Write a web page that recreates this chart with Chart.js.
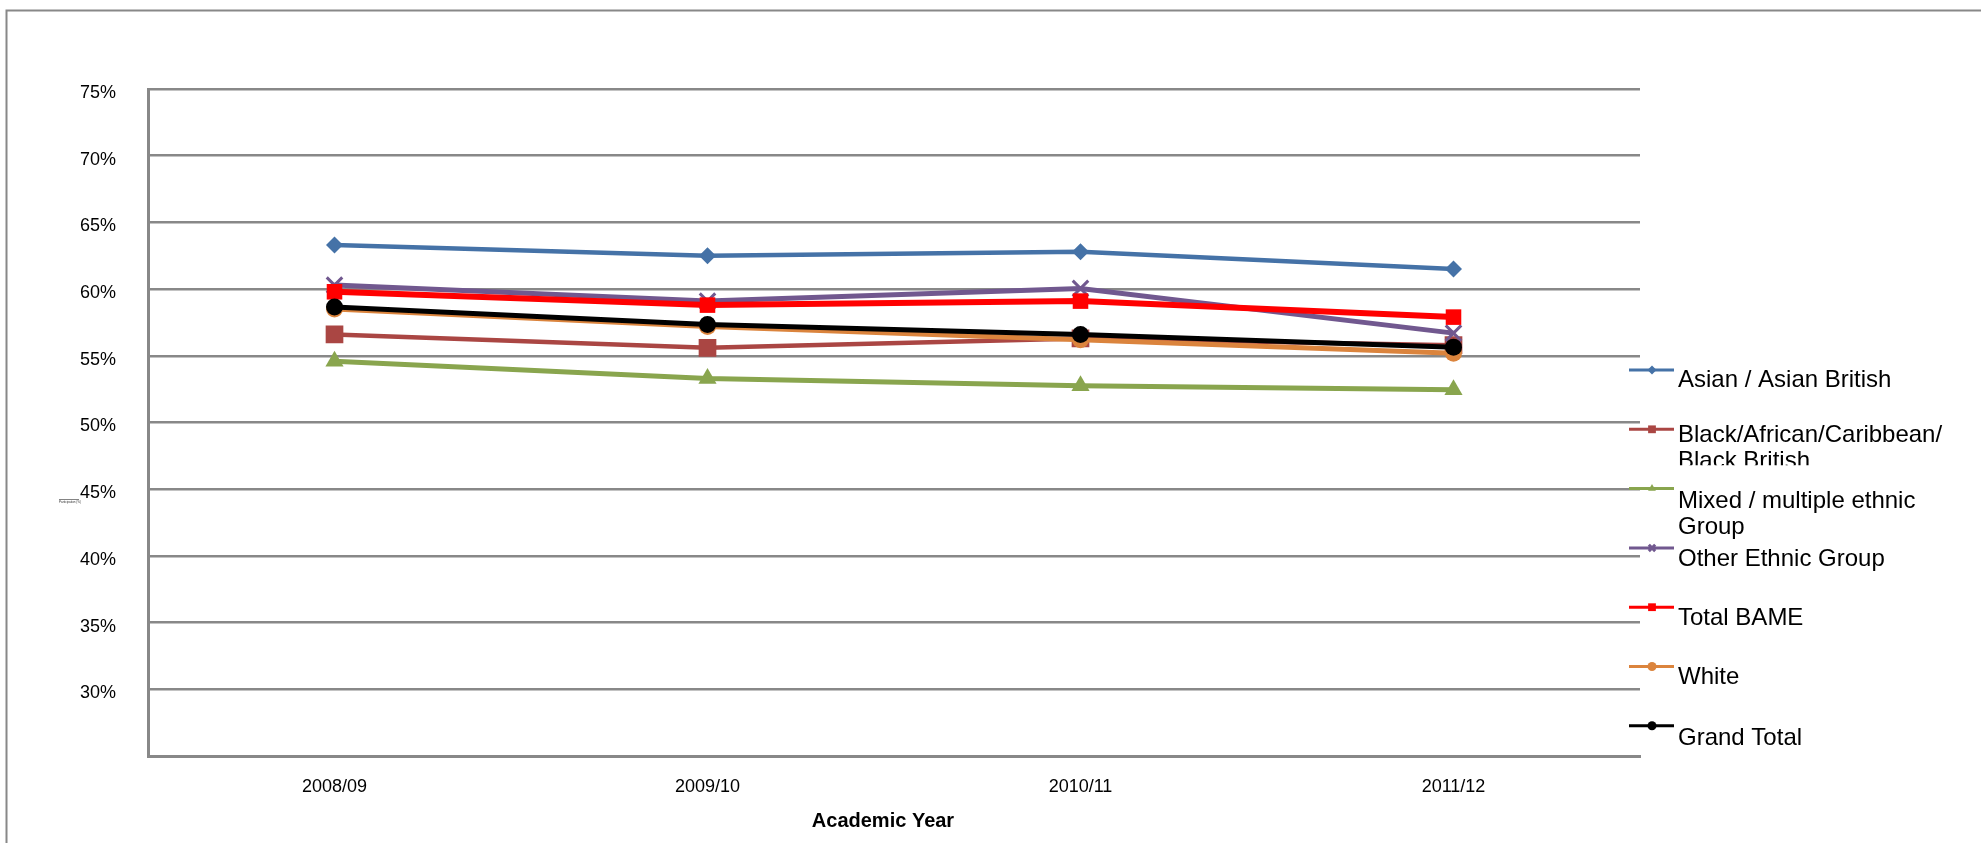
<!DOCTYPE html>
<html>
<head>
<meta charset="utf-8">
<script src="https://cdn.jsdelivr.net/npm/chart.js@4.4.1/dist/chart.umd.min.js"></script>
<style>
  html, body { margin: 0; padding: 0; background: #fff; }
</style>
</head>
<body>
<canvas id="grafico" width="1981" height="843"></canvas>
<script>
// Datos (porcentaje)
const years = ['2008/09', '2009/10', '2010/11', '2011/12'];
const seriesNames = [
  'Asian / Asian British',
  'Black/African/Caribbean/Black British',
  'Mixed / multiple ethnic Group',
  'Other Ethnic Group',
  'Total BAME',
  'White',
  'Grand Total'
];
const asian = [63.3, 62.5, 62.8, 61.5];
const blackAfrican = [56.6, 55.6, 56.3, 55.8];
const mixed = [54.6, 53.3, 52.75, 52.45];
const otherEthnic = [60.3, 59.1, 60.05, 56.7];
const totalBame = [59.8, 58.8, 59.1, 57.9];
const white = [58.5, 57.2, 56.2, 55.2];
const grandTotal = [58.65, 57.35, 56.6, 55.65];
const yMin = 25, yMax = 75, yStep = 5;
const xTitle = 'Academic Year';
const tinyLabel = 'Participation (%)';

const seriesValues = [asian, blackAfrican, mixed, otherEthnic, totalBame, white, grandTotal];

// Estilos de cada serie
const estilos = [
  { color: '#4572A7', punto: 'rectRot', radio: 8.5, linea: 4.5, borde: 0 },
  { color: '#AA4643', punto: 'rect', radio: 12.5, linea: 4.5, borde: 0 },
  { color: '#89A54E', punto: 'triangle', radio: 10.5, linea: 5, borde: 0 },
  { color: '#71588F', punto: 'crossRot', radio: 11, linea: 5, borde: 3 },
  { color: '#FF0000', punto: 'rect', radio: 11, linea: 6, borde: 0 },
  { color: '#DB843D', punto: 'circle', radio: 8.5, linea: 5, borde: 0 },
  { color: '#000000', punto: 'circle', radio: 8.5, linea: 5, borde: 0 }
];

const fuente = '"Liberation Sans", Arial, sans-serif';

function partirTexto(ctx, texto, ancho) {
  const piezas = texto.match(/[^ \/]+\/?|\/| /g);
  const lineas = [];
  let actual = '';
  piezas.forEach(function(p) {
    if (actual.trim() && ctx.measureText(actual + p).width > ancho) {
      lineas.push(actual.trim());
      actual = p.trim() ? p : '';
    } else {
      actual += p;
    }
  });
  if (actual.trim()) lineas.push(actual.trim());
  return lineas;
}

const marcoYLeyenda = {
  id: 'marcoYLeyenda',
  beforeDraw(chart) {
    const ctx = chart.ctx;
    ctx.save();
    ctx.fillStyle = '#fff';
    ctx.fillRect(0, 0, chart.width, chart.height);
    ctx.strokeStyle = '#888';
    ctx.lineWidth = 2;
    ctx.beginPath();
    ctx.moveTo(6.5, chart.height);
    ctx.lineTo(6.5, 10.5);
    ctx.lineTo(chart.width, 10.5);
    ctx.stroke();
    ctx.restore();
  },
  afterDraw(chart) {
    const ctx = chart.ctx;
    ctx.save();

    // Título del eje X
    ctx.fillStyle = '#000';
    ctx.font = 'bold 20px ' + fuente;
    ctx.textAlign = 'center';
    ctx.textBaseline = 'alphabetic';
    ctx.fillText(xTitle, 883, 827);

    // Texto diminuto junto al eje Y
    ctx.font = '3px ' + fuente;
    ctx.textAlign = 'left';
    ctx.fillStyle = '#333';
    ctx.fillText(tinyLabel, 59, 503);
    ctx.fillRect(59, 499, 20, 0.6);

    // Leyenda
    const ajusteBase = [17, 13, 19, 18, 18, 17, 19];
    ctx.font = '24px ' + fuente;
    chart.data.datasets.forEach(function(ds, i) {
      const y = 370 + i * 59.3;
      const est = estilos[i];
      ctx.strokeStyle = est.color;
      ctx.fillStyle = est.color;
      ctx.lineWidth = 3;
      ctx.beginPath();
      ctx.moveTo(1629, y);
      ctx.lineTo(1674, y);
      ctx.stroke();
      Chart.helpers.drawPoint(ctx, {
        pointStyle: est.punto,
        radius: est.punto === 'rect' ? 5.5 : 4.5,
        borderWidth: est.borde ? 2 : 0,
        rotation: 0
      }, 1652, y);

      ctx.save();
      if (i === 1) {
        // el segundo renglón queda cortado como en el original
        ctx.beginPath();
        ctx.rect(1670, y - 20, 320, 56);
        ctx.clip();
      }
      ctx.fillStyle = '#000';
      const lineas = partirTexto(ctx, ds.label, 280);
      lineas.forEach(function(l, k) {
        ctx.fillText(l, 1678, y + ajusteBase[i] + k * 26);
      });
      ctx.restore();
    });
    ctx.restore();
  }
};

document.addEventListener('DOMContentLoaded', function() {
  const ctx = document.getElementById('grafico').getContext('2d');
  new Chart(ctx, {
    type: 'line',
    data: {
      labels: years,
      datasets: seriesNames.map(function(nombre, i) {
        const est = estilos[i];
        return {
          label: nombre,
          data: seriesValues[i],
          borderColor: est.color,
          backgroundColor: est.color,
          borderWidth: est.linea,
          pointStyle: est.punto,
          pointRadius: est.radio,
          pointBorderWidth: est.borde,
          pointBorderColor: est.color,
          pointBackgroundColor: est.color,
          tension: 0,
          order: seriesNames.length - i
        };
      })
    },
    options: {
      responsive: false,
      animation: false,
      devicePixelRatio: 1,
      layout: { padding: { top: 89, right: 341, left: 0, bottom: 0 } },
      plugins: {
        legend: { display: false },
        tooltip: { enabled: false }
      },
      scales: {
        x: {
          offset: true,
          grid: { display: false },
          border: { color: '#888', width: 3 },
          ticks: { color: '#000', font: { family: fuente, size: 18 }, padding: 12, maxRotation: 0 },
          afterFit: function(s) { s.height = 87; }
        },
        y: {
          min: yMin,
          max: yMax,
          ticks: {
            stepSize: yStep,
            padding: 32,
            labelOffset: 4,
            color: '#000',
            font: { family: fuente, size: 18 },
            callback: function(v) { return v === yMin ? '' : v + '%'; }
          },
          grid: { color: '#888', lineWidth: 2.5, drawTicks: false },
          border: { color: '#888', width: 3 },
          afterFit: function(s) { s.width = 148; }
        }
      }
    },
    plugins: [marcoYLeyenda]
  });
});
</script>
</body>
</html>
